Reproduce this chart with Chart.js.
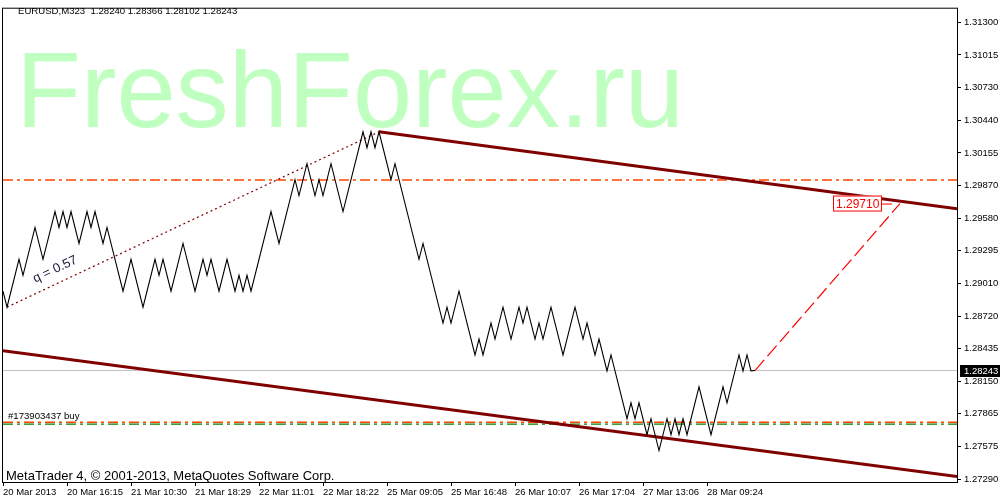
<!DOCTYPE html>
<html>
<head>
<meta charset="utf-8">
<script src="https://cdn.jsdelivr.net/npm/chart.js@4/dist/chart.umd.min.js"></script>
<style>
html,body{margin:0;padding:0;background:#fff;}
</style>
</head>
<body>
<canvas id="chart" width="1000" height="500"></canvas>
<script>
// header / watermark texts
var symbolText = 'EURUSD,M323  1.28240 1.28366 1.28102 1.28243';
var watermark = 'FreshForex.ru';
var copyrightText = 'MetaTrader 4, \u00a9 2001-2013, MetaQuotes Software Corp.';
var orderText = '#173903437 buy';
var qText = 'q = 0.57';

// time axis: bar index of each date label
var dateBars = [0, 16, 32, 48, 64, 80, 96, 112, 128, 144, 160, 176];
var dateLabels = ['20 Mar 2013', '20 Mar 16:15', '21 Mar 10:30', '21 Mar 18:29', '22 Mar 11:01', '22 Mar 18:22',
                  '25 Mar 09:05', '25 Mar 16:48', '26 Mar 10:07', '26 Mar 17:04', '27 Mar 13:06', '28 Mar 09:24'];

// price axis
var priceTicks = [1.31300, 1.31015, 1.30730, 1.30440, 1.30155, 1.29870, 1.29580, 1.29295,
                  1.29010, 1.28720, 1.28435, 1.28150, 1.27865, 1.27575, 1.27290];
var priceMin = 1.27264, priceMax = 1.314215;
var lastBar = 238.5;

// close line turning points (bar index, price)
var bars = [0, 1, 4, 5, 8, 10, 13, 14, 15, 16, 17, 19, 21, 22, 23, 25, 26, 30, 32, 35, 38, 39, 40, 42, 45, 48,
            50, 51, 52, 54, 56, 58, 59, 60, 61, 62, 67, 69, 73, 74, 76, 78, 79, 80, 82, 85, 90, 91, 92, 93, 94,
            97, 98, 104, 105, 110, 111, 112, 114, 118, 119, 120, 122, 123, 125, 127, 129, 130, 131, 133, 134,
            135, 137, 140, 143, 145, 146, 148, 149, 151, 152, 156, 157, 158, 159, 161, 162, 164, 166, 167, 168,
            169, 170, 171, 174, 177, 180, 181, 184, 185, 186, 187, 188];
var closes = [1.2894, 1.2880, 1.2922, 1.2908, 1.2950, 1.2922, 1.2964, 1.2950, 1.2964, 1.2950, 1.2964, 1.2936,
              1.2964, 1.2950, 1.2964, 1.2936, 1.2950, 1.2894, 1.2922, 1.2880, 1.2922, 1.2908, 1.2922, 1.2894,
              1.2936, 1.2894, 1.2922, 1.2908, 1.2922, 1.2894, 1.2922, 1.2894, 1.2908, 1.2894, 1.2908, 1.2894,
              1.2964, 1.2936, 1.2992, 1.2978, 1.3006, 1.2978, 1.2992, 1.2978, 1.3006, 1.2964, 1.3034, 1.3020,
              1.3034, 1.3020, 1.3034, 1.2992, 1.3006, 1.2922, 1.2936, 1.2866, 1.2880, 1.2866, 1.2894, 1.2838,
              1.2852, 1.2838, 1.2866, 1.2852, 1.2880, 1.2852, 1.2880, 1.2866, 1.2880, 1.2852, 1.2866, 1.2852,
              1.2880, 1.2838, 1.2880, 1.2852, 1.2866, 1.2838, 1.2852, 1.2824, 1.2838, 1.2782, 1.2796, 1.2782,
              1.2796, 1.2768, 1.2782, 1.2754, 1.2782, 1.2768, 1.2782, 1.2768, 1.2782, 1.2768, 1.2810, 1.2768,
              1.2810, 1.2796, 1.2838, 1.2824, 1.2838, 1.2824, 1.28243];
var lastPrice = 1.28243;

// objects on the chart (bar index, price)
var upperTrend = [[94, 1.3034], [238.5, 1.29664]];
var lowerTrend = [[0, 1.28418], [238.5, 1.27312]];
var qLine = [[1, 1.2880], [94, 1.3034]];
var pendingLine = [[188, 1.28243], [224.25, 1.2971]];
var pendingText = '1.29710';
var levelPrice = 1.29916;
var stopPrice = 1.27789;
var openPrice = 1.27772;

function seg(pairs){
    return pairs.map(function(p){ return {x: p[0], y: p[1]}; });
}
function hline(price){
    return [{x: 0, y: price}, {x: lastBar, y: price}];
}
function lineSet(data, color, width, dash, order){
    return {data: data, borderColor: color, borderWidth: width, borderDash: dash || [],
            pointRadius: 0, tension: 0, fill: false, order: order, borderCapStyle: 'butt'};
}

var extras = {
    id: 'extras',
    beforeDatasetsDraw: function(chart){
        var ctx = chart.ctx, a = chart.chartArea;
        ctx.save();
        ctx.beginPath();
        ctx.rect(a.left, a.top, a.right - a.left, a.bottom - a.top);
        ctx.clip();
        ctx.fillStyle = '#bfffbf';
        ctx.font = '108px "Liberation Sans", Arial, sans-serif';
        ctx.textBaseline = 'alphabetic';
        ctx.fillText(watermark, 16, 127, 668);
        ctx.restore();
    },
    afterDatasetsDraw: function(chart){
        var ctx = chart.ctx, xs = chart.scales.x, ys = chart.scales.y;
        ctx.save();
        ctx.font = '9.6px "Liberation Sans", Arial, sans-serif';
        ctx.fillStyle = '#000';
        ctx.textBaseline = 'middle';
        ctx.fillText(symbolText, 18, 11);
        ctx.fillText(orderText, 8, 416);

        ctx.font = '13px "Liberation Sans", Arial, sans-serif';
        ctx.textBaseline = 'alphabetic';
        ctx.fillText(copyrightText, 6, 480);

        // q = 0.57 along the dotted line
        var x0 = xs.getPixelForValue(qLine[0][0]), y0 = ys.getPixelForValue(qLine[0][1]);
        var x1 = xs.getPixelForValue(qLine[1][0]), y1 = ys.getPixelForValue(qLine[1][1]);
        var ang = Math.atan2(y1 - y0, x1 - x0);
        ctx.translate(x0 + (x1 - x0) * 0.145, y0 + (y1 - y0) * 0.145);
        ctx.rotate(ang);
        ctx.fillStyle = '#1a1a3a';
        ctx.textAlign = 'center';
        ctx.fillText(qText, 0, -10);
        ctx.restore();

        // pending price box
        var px = xs.getPixelForValue(pendingLine[1][0]), py = ys.getPixelForValue(pendingLine[1][1]);
        ctx.save();
        ctx.fillStyle = '#fff';
        ctx.fillRect(px - 67, py - 8, 49, 16);
        ctx.strokeStyle = '#ff0000';
        ctx.lineWidth = 1;
        ctx.strokeRect(px - 66.5, py - 7.5, 48, 15);
        ctx.beginPath();
        ctx.moveTo(px - 18, py + 0.5);
        ctx.lineTo(px - 8, py + 0.5);
        ctx.stroke();
        ctx.fillStyle = '#ff0000';
        ctx.font = '12px "Liberation Sans", Arial, sans-serif';
        ctx.textBaseline = 'middle';
        ctx.fillText(pendingText, px - 64, py + 1);
        ctx.restore();
    },
    afterDraw: function(chart){
        var ctx = chart.ctx, a = chart.chartArea, ys = chart.scales.y;
        ctx.save();
        ctx.strokeStyle = '#000';
        ctx.lineWidth = 1;
        ctx.strokeRect(a.left - 0.5, a.top - 0.5, a.right - a.left + 1, a.bottom - a.top + 1);
        var yp = Math.round(ys.getPixelForValue(lastPrice));
        ctx.fillStyle = '#000';
        ctx.fillRect(a.right + 3, yp - 6, 1000 - a.right - 3, 12);
        ctx.fillStyle = '#fff';
        ctx.font = '9.5px "Liberation Sans", Arial, sans-serif';
        ctx.textBaseline = 'middle';
        ctx.fillText(lastPrice.toFixed(5), a.right + 7, yp + 0.5);
        ctx.restore();
    }
};

Chart.defaults.font.family = '"Liberation Sans", Arial, sans-serif';
Chart.defaults.font.size = 9.5;
Chart.defaults.color = '#000';

var priceData = bars.map(function(b, i){ return {x: b, y: closes[i]}; });

new Chart(document.getElementById('chart').getContext('2d'), {
    type: 'line',
    data: {
        datasets: [
            lineSet(priceData, '#000000', 1.1, null, 0),
            lineSet(seg(upperTrend), '#800000', 3, null, 1),
            lineSet(seg(lowerTrend), '#800000', 3, null, 1),
            lineSet(seg(qLine), '#800000', 1.2, [2, 3], 1),
            lineSet(seg(pendingLine), '#ff0000', 1.2, [14, 5], 1),
            lineSet(hline(levelPrice), '#ff4500', 1.5, [10, 4, 3, 4], 2),
            lineSet(hline(openPrice), '#008000', 1.3, [10, 4, 3, 4], 2),
            lineSet(hline(stopPrice), '#ff4500', 1.3, [10, 4, 3, 4], 2),
            lineSet(hline(lastPrice), '#c0c0c0', 1, null, 3)
        ]
    },
    options: {
        responsive: false,
        devicePixelRatio: 1,
        animation: false,
        layout: {padding: {left: 3, top: 3, right: 0, bottom: 0}},
        plugins: {legend: {display: false}, tooltip: {enabled: false}},
        scales: {
            x: {
                type: 'linear',
                position: 'bottom',
                min: 0,
                max: lastBar,
                afterBuildTicks: function(scale){
                    scale.ticks = dateBars.map(function(v){ return {value: v}; });
                },
                afterFit: function(scale){ scale.height = 18; },
                grid: {display: true, drawOnChartArea: false, drawTicks: true, tickLength: 4, color: '#000'},
                border: {display: false},
                ticks: {
                    autoSkip: false, maxRotation: 0, minRotation: 0, padding: 1, align: 'start',
                    callback: function(v){
                        var k = dateBars.indexOf(v);
                        return k >= 0 ? dateLabels[k] : '';
                    }
                }
            },
            y: {
                type: 'linear',
                position: 'right',
                min: priceMin,
                max: priceMax,
                afterBuildTicks: function(scale){
                    scale.ticks = priceTicks.map(function(v){ return {value: v}; });
                },
                afterFit: function(scale){ scale.width = 43; },
                grid: {display: true, drawOnChartArea: false, drawTicks: true, tickLength: 4, color: '#000'},
                border: {display: false},
                ticks: {
                    padding: 3,
                    callback: function(v){ return Number(v).toFixed(5); }
                }
            }
        }
    },
    plugins: [extras]
});
</script>
</body>
</html>
